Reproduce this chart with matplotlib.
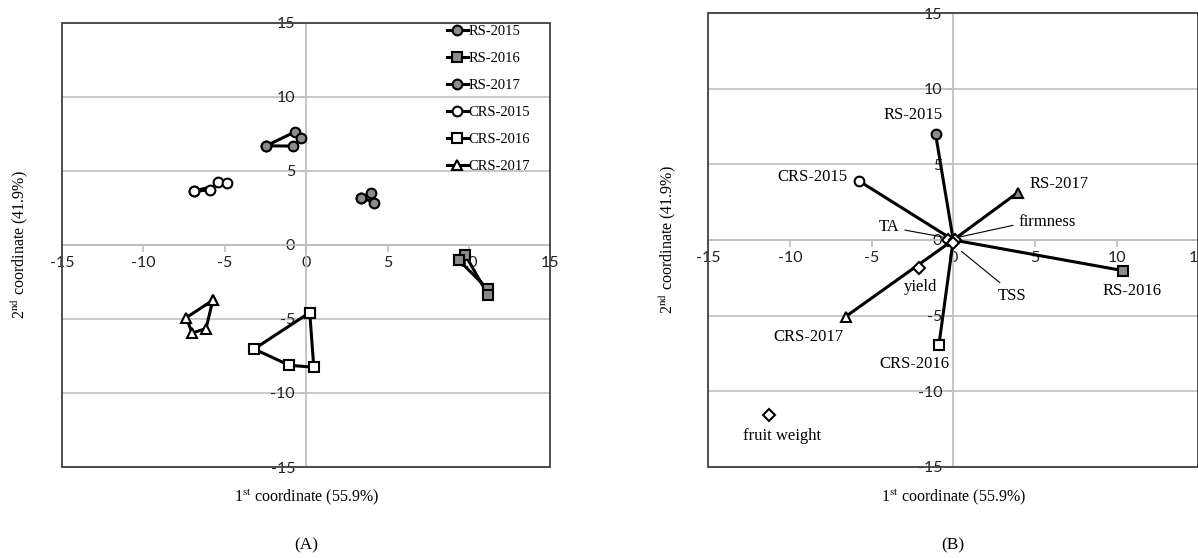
import matplotlib
matplotlib.use("Agg")
import matplotlib.pyplot as plt
from matplotlib.patches import Rectangle

plt.rcParams['font.family'] = ['Liberation Serif', 'DejaVu Serif']
plt.rcParams['mathtext.fontset'] = 'stix'
plt.rcParams['axes.unicode_minus'] = False

# ---- panel A: replicate coordinates per group (closed polygons) ----
a_names = ["RS-2015", "RS-2016", "RS-2017", "CRS-2015", "CRS-2016", "CRS-2017"]
a_x = [
    [-2.46, -0.66, -0.31, -0.82, -2.46],
    [9.38, 11.19, 11.19, 9.79, 9.38],
    [3.40, 4.01, 4.20, 3.40],
    [-6.91, -5.90, -5.39, -4.84, -6.91],
    [0.22, -3.20, -1.03, 0.47, 0.22],
    [-5.74, -7.36, -7.01, -6.15, -5.74],
]
a_y = [
    [6.69, 7.64, 7.19, 6.67, 6.69],
    [-1.03, -3.01, -3.40, -0.70, -1.03],
    [3.18, 3.47, 2.86, 3.18],
    [3.63, 3.70, 4.24, 4.19, 3.63],
    [-4.57, -7.03, -8.13, -8.26, -4.57],
    [-3.74, -4.91, -5.95, -5.65, -3.74],
]
a_marker = ["o", "s", "o", "o", "s", "^"]
a_fill = ["#8c8c8c", "#8c8c8c", "#8c8c8c", "white", "white", "white"]

# ---- panel B: biplot ----
b_samples = ["RS-2015", "CRS-2015", "RS-2017", "RS-2016", "CRS-2017", "CRS-2016"]
b_sx = [-1.08, -5.76, 3.94, 10.41, -6.59, -0.88]
b_sy = [7.0, 3.90, 3.13, -2.03, -5.07, -6.97]
b_smarker = ["o", "o", "^", "s", "^", "s"]
b_sfill = ["#8c8c8c", "white", "#8c8c8c", "#8c8c8c", "white", "white"]

b_traits = ["TA", "firmness", "TSS", "yield", "fruit weight"]
b_tx = [-0.35, 0.08, 0.0, -2.12, -11.27]
b_ty = [0.0, 0.02, -0.2, -1.83, -11.6]

ticks = [-15, -10, -5, 0, 5, 10, 15]
serif = 12
gray = "#bfbfbf"


def frame(ax):
    ax.set_xlim(-15, 15)
    ax.set_ylim(-15, 15)
    for s in ["top", "right"]:
        ax.spines[s].set_visible(False)
    for s in ["left", "bottom"]:
        ax.spines[s].set_position("zero")
        ax.spines[s].set_color(gray)
        ax.spines[s].set_linewidth(1.3)
    ax.set_xticks(ticks)
    ax.set_yticks(ticks)
    ax.tick_params(direction="out", length=5, color=gray, width=1.2, pad=3,
                   labelcolor="#222222")
    for lab in ax.get_xticklabels() + ax.get_yticklabels():
        lab.set_fontfamily('Lato')
        lab.set_fontsize(11.5)
    ax.yaxis.grid(True, color=gray, lw=1.2)
    ax.set_axisbelow(True)
    ax.add_patch(Rectangle((0, 0), 1, 1, transform=ax.transAxes, fill=False,
                           ec="#404040", lw=1.3, clip_on=False, zorder=5))


fig = plt.figure(figsize=(11.98, 5.58), dpi=100)
axA = fig.add_axes([0.0518, 0.163, 0.4075, 0.7963])
axB = fig.add_axes([0.5912, 0.1636, 0.409, 0.8126])

frame(axA)
for name, xs, ys, m, fc in zip(a_names, a_x, a_y, a_marker, a_fill):
    axA.plot(xs, ys, color="black", lw=2.2, marker=m, ms=7, mfc=fc,
             mec="black", mew=1.5, label=name, zorder=3)
axA.legend(loc="upper right", frameon=False, fontsize=10.5, handlelength=1.4,
           handletextpad=0.05, labelspacing=0.95, borderaxespad=0.0,
           borderpad=0.15, bbox_to_anchor=(0.963, 1.0))

axA.text(0.5, -0.068, r"1$^{\mathrm{st}}$ coordinate (55.9%)", transform=axA.transAxes,
         ha="center", va="center", fontsize=11.5)
axA.text(-0.086, 0.5, r"2$^{\mathrm{nd}}$ coordinate (41.9%)", transform=axA.transAxes,
         ha="center", va="center", rotation=90, fontsize=11.5)
axA.text(0.5, -0.176, "(A)", transform=axA.transAxes, ha="center", va="center",
         fontsize=12.5)

frame(axB)
for name, x, y, m, fc in zip(b_samples, b_sx, b_sy, b_smarker, b_sfill):
    axB.plot([0, x], [0, y], color="black", lw=2.2, marker=m, markevery=[1],
             ms=7, mfc=fc, mec="black", mew=1.5, zorder=3)
axB.plot(b_tx, b_ty, ls="none", marker="D", ms=6, mfc="white", mec="black",
         mew=1.5, zorder=4)

# sample labels
axB.text(-2.45, 8.27, "RS-2015", ha="center", va="center", fontsize=serif)
axB.text(-6.5, 4.19, "CRS-2015", ha="right", va="center", fontsize=serif)
axB.text(4.65, 3.69, "RS-2017", ha="left", va="center", fontsize=serif)
axB.text(10.96, -3.37, "RS-2016", ha="center", va="center", fontsize=serif)
axB.text(-8.84, -6.44, "CRS-2017", ha="center", va="center", fontsize=serif)
axB.text(-2.39, -8.2, "CRS-2016", ha="center", va="center", fontsize=serif)
# trait labels
axB.text(-2.0, -3.09, "yield", ha="center", va="center", fontsize=serif)
axB.text(-10.47, -12.97, "fruit weight", ha="center", va="center", fontsize=serif)
axB.annotate("TA", xy=(-0.4, 0.15), xytext=(-3.3, 0.88), ha="right", va="center",
             fontsize=serif,
             arrowprops=dict(arrowstyle="-", lw=0.8, color="black", shrinkA=2,
                             shrinkB=0, relpos=(1.0, 0.35)))
axB.annotate("firmness", xy=(0.4, 0.2), xytext=(4.0, 1.21), ha="left", va="center",
             fontsize=serif,
             arrowprops=dict(arrowstyle="-", lw=0.8, color="black", shrinkA=2,
                             shrinkB=0, relpos=(0.0, 0.35)))
axB.annotate("TSS", xy=(0.5, -0.75), xytext=(3.61, -3.71), ha="center", va="center",
             fontsize=serif,
             arrowprops=dict(arrowstyle="-", lw=0.8, color="black", shrinkA=3,
                             shrinkB=0, relpos=(0.3, 1.0)))

axB.text(0.5, -0.067, r"1$^{\mathrm{st}}$ coordinate (55.9%)", transform=axB.transAxes,
         ha="center", va="center", fontsize=11.5)
axB.text(-0.082, 0.5, r"2$^{\mathrm{nd}}$ coordinate (41.9%)", transform=axB.transAxes,
         ha="center", va="center", rotation=90, fontsize=11.5)
axB.text(0.5, -0.173, "(B)", transform=axB.transAxes, ha="center", va="center",
         fontsize=12.5)

fig.savefig("out.png", dpi=100)
